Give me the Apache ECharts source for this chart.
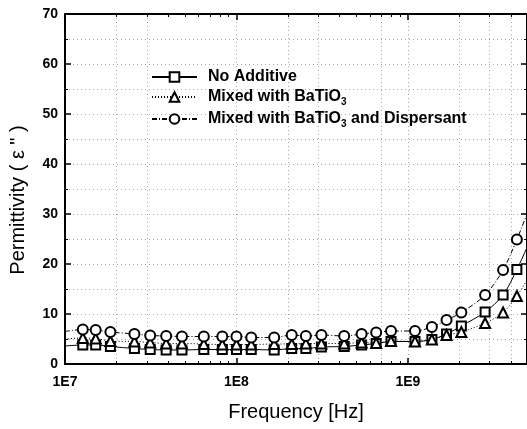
<!DOCTYPE html>
<html>
<head>
<meta charset="utf-8">
<script src="https://cdn.jsdelivr.net/npm/echarts@6/dist/echarts.min.js"></script>
<style>
html,body{margin:0;padding:0;background:#fff;}
#chart{width:527px;height:429px;}
</style>
</head>
<body>
<div id="chart"></div>
<script>
// Frequencies (Hz); first and last points are line ends without markers
const frequency = [1e7, 1.27e7, 1.51e7, 1.84e7, 2.54e7, 3.14e7, 3.89e7, 4.81e7, 6.45e7, 8.27e7,
  1.0e8, 1.22e8, 1.66e8, 2.10e8, 2.54e8, 3.13e8, 4.25e8, 5.37e8, 6.53e8, 7.97e8,
  1.10e9, 1.38e9, 1.68e9, 2.05e9, 2.82e9, 3.59e9, 4.32e9, 4.95e9];
const noAdditive = [3.6, 3.8, 3.8, 3.5, 3.1, 2.9, 2.8, 2.8, 2.9, 2.9,
  2.9, 2.9, 2.8, 3.1, 3.1, 3.4, 3.5, 3.8, 4.1, 4.5,
  4.5, 4.9, 6.0, 7.6, 10.4, 13.8, 18.9, 23.3];
const mixedBaTiO3 = [5.0, 5.2, 5.1, 4.6, 4.5, 4.3, 4.1, 4.1, 4.0, 3.9,
  3.9, 3.9, 4.0, 4.0, 4.1, 4.1, 4.1, 4.3, 4.2, 4.6,
  4.5, 4.9, 5.8, 6.4, 8.2, 10.3, 13.6, 16.8];
const mixedDispersant = [6.5, 6.9, 6.8, 6.4, 6.0, 5.7, 5.6, 5.5, 5.5, 5.5,
  5.5, 5.3, 5.3, 5.8, 5.6, 5.8, 5.6, 6.0, 6.3, 6.6,
  6.6, 7.4, 8.8, 10.3, 13.8, 18.8, 24.9, 30.0];
const seriesNames = ['No Additive', 'Mixed with BaTiO3', 'Mixed with BaTiO3 and Dispersant'];
const xMajorTicks = [1e7, 1e8, 1e9];
const xMinorTicks = [2e7, 3e7, 4e7, 5e7, 6e7, 7e7, 8e7, 9e7,
  2e8, 3e8, 4e8, 5e8, 6e8, 7e8, 8e8, 9e8, 2e9, 3e9, 4e9];
const xGridLines = [2e7, 3e7, 1e8, 2e8, 3e8, 7e8, 1e9, 2e9, 3e9, 4e9];
const xMin = 1e7, xMax = 4.95e9;
const yMin = 0, yMax = 70, yInterval = 10;

const FONT = '"Liberation Sans", Arial, sans-serif';

function build(vals) {
  return frequency.map((f, i) => {
    const item = { value: [f, vals[i]] };
    if (i === 0 || i === frequency.length - 1) item.symbol = 'none';
    return item;
  });
}
function expLabel(v) {
  const e = Math.round(Math.log10(v));
  return '1E' + e;
}

const baseX = { type: 'log', logBase: 10, min: xMin, max: xMax, gridIndex: 0 };
const lineStyleAxis = { color: '#000', width: 2 };

const chart = echarts.init(document.getElementById('chart'), null, { renderer: 'canvas' });
chart.setOption({
  animation: false,
  backgroundColor: '#fff',
  grid: { left: 64, top: 14, width: 466, height: 350, containLabel: false },
  legend: {
    orient: 'vertical', left: 151, top: 69, padding: 0,
    itemWidth: 45, itemHeight: 12, itemGap: 2,
    data: seriesNames,
    textStyle: {
      fontFamily: FONT, fontWeight: 'bold', fontSize: 16, color: '#000',
      padding: [0, 0, 0, 6],
      rich: {
        n: { fontFamily: FONT, fontWeight: 'bold', fontSize: 16, color: '#000', lineHeight: 18 },
        sub: { fontFamily: FONT, fontWeight: 'bold', fontSize: 10, color: '#000', lineHeight: 8, padding: [10, 0, 0, 0] }
      }
    },
    formatter: function (name) {
      return name.split('BaTiO3').map(s => s ? '{n|' + s + '}' : '').join('{n|BaTiO}{sub|3}');
    }
  },
  xAxis: [
    Object.assign({}, baseX, {
      position: 'bottom',
      name: 'Frequency [Hz]', nameLocation: 'middle', nameGap: 38,
      nameTextStyle: { fontFamily: FONT, fontSize: 20, color: '#000' },
      axisLine: { show: true, lineStyle: lineStyleAxis },
      axisTick: { show: true, inside: true, length: 6, customValues: xMajorTicks, lineStyle: { color: '#000', width: 1.5 } },
      axisLabel: { show: true, customValues: xMajorTicks, margin: 11, formatter: expLabel,
        fontFamily: FONT, fontWeight: 'bold', fontSize: 14, color: '#000' },
      splitLine: { show: false }, minorTick: { show: false }, minorSplitLine: { show: false }
    }),
    Object.assign({}, baseX, {
      position: 'bottom',
      axisLine: { show: false },
      axisTick: { show: true, inside: true, length: 3, customValues: xMinorTicks, lineStyle: { color: '#000', width: 1 } },
      axisLabel: { show: false }, splitLine: { show: false }
    }),
    Object.assign({}, baseX, {
      position: 'top',
      axisLine: { show: true, lineStyle: lineStyleAxis },
      axisTick: { show: true, inside: true, length: 6, customValues: xMajorTicks, lineStyle: { color: '#000', width: 1.5 } },
      axisLabel: { show: false }, splitLine: { show: false }
    }),
    Object.assign({}, baseX, {
      position: 'top',
      axisLine: { show: false },
      axisTick: { show: true, inside: true, length: 3, customValues: xMinorTicks, lineStyle: { color: '#000', width: 1 } },
      axisLabel: { show: false }, splitLine: { show: false }
    }),
    Object.assign({}, baseX, {
      position: 'bottom',
      axisLine: { show: false },
      axisTick: { show: false, customValues: xGridLines },
      axisLabel: { show: false },
      splitLine: { show: true, lineStyle: { color: '#a8a8a8', width: 1, type: [1, 3] } }
    })
  ],
  yAxis: [
    {
      type: 'value', min: yMin, max: yMax, interval: yInterval, position: 'left',
      name: 'Permittivity ( ε " )', nameLocation: 'middle', nameGap: 37,
      nameTextStyle: { fontFamily: FONT, fontSize: 20, color: '#000', padding: [0, 22, 0, 0] },
      axisLine: { show: true, lineStyle: lineStyleAxis },
      axisTick: { show: true, inside: true, length: 6, lineStyle: { color: '#000', width: 1.5 } },
      minorTick: { show: true, splitNumber: 2, length: 3, lineStyle: { color: '#000', width: 1 } },
      axisLabel: { margin: 7, fontFamily: FONT, fontWeight: 'bold', fontSize: 14, color: '#000' },
      splitLine: { show: true, lineStyle: { color: '#a8a8a8', width: 1, type: [1, 3] } },
      minorSplitLine: { show: true, lineStyle: { color: '#a8a8a8', width: 1, type: [1, 3] } }
    },
    {
      type: 'value', min: yMin, max: yMax, interval: yInterval, position: 'right',
      axisLine: { show: true, lineStyle: lineStyleAxis },
      axisTick: { show: true, inside: true, length: 6, lineStyle: { color: '#000', width: 1.5 } },
      minorTick: { show: true, splitNumber: 2, length: 3, lineStyle: { color: '#000', width: 1 } },
      axisLabel: { show: false },
      splitLine: { show: false }
    }
  ],
  series: [
    {
      name: seriesNames[0], type: 'line', xAxisIndex: 0, yAxisIndex: 0,
      data: build(noAdditive), symbol: 'emptyRect', symbolSize: 9, smooth: 0.3,
      lineStyle: { color: '#000', width: 1, type: 'solid' },
      itemStyle: { color: '#000', borderWidth: 1 }, z: 3
    },
    {
      name: seriesNames[1], type: 'line', xAxisIndex: 0, yAxisIndex: 0,
      data: build(mixedBaTiO3), symbol: 'emptyTriangle', symbolSize: 10, smooth: 0.3,
      lineStyle: { color: '#000', width: 1, type: [1, 2] },
      itemStyle: { color: '#000', borderWidth: 1 }, z: 3
    },
    {
      name: seriesNames[2], type: 'line', xAxisIndex: 0, yAxisIndex: 0,
      data: build(mixedDispersant), symbol: 'emptyCircle', symbolSize: 10, smooth: 0.3,
      lineStyle: { color: '#000', width: 1, type: [5, 2, 1, 2] },
      itemStyle: { color: '#000', borderWidth: 1 }, z: 3
    }
  ]
});
</script>
</body>
</html>
